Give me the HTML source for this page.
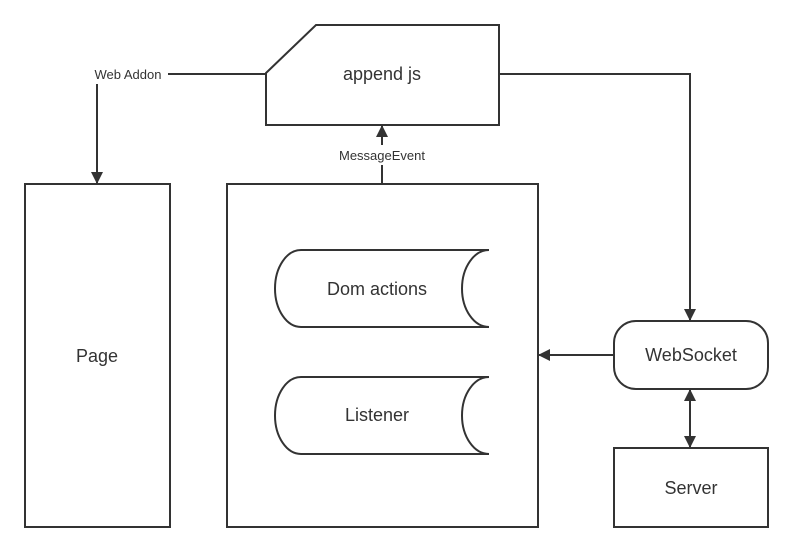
<!DOCTYPE html>
<html><head><meta charset="utf-8"><style>
html,body{margin:0;padding:0;background:#fff;}
svg{display:block;}
text{font-family:"Liberation Sans",sans-serif;fill:#333;}
</style></head><body>
<svg width="793" height="552" viewBox="0 0 793 552" xmlns="http://www.w3.org/2000/svg">
<defs>
<marker id="a" viewBox="0 0 10 10" refX="10" refY="5" markerWidth="12" markerHeight="12" markerUnits="userSpaceOnUse" orient="auto-start-reverse">
<path d="M0,0 L10,5 L0,10 z" fill="#333"/></marker>
</defs>
<g fill="none" stroke="#333" stroke-width="2">
<path d="M266,73 L316,25 L499,25 L499,125 L266,125 Z" fill="#fff"/>
<rect x="25" y="184" width="145" height="343"/>
<rect x="227" y="184" width="311" height="343"/>
<path d="M489,250 L301,250 A26,38.5 0 0 0 301,327 L489,327"/>
<path d="M489,250 A27,38.5 0 0 0 489,327"/>
<path d="M489,377 L301,377 A26,38.5 0 0 0 301,454 L489,454"/>
<path d="M489,377 A27,38.5 0 0 0 489,454"/>
<rect x="614" y="321" width="154" height="68" rx="22"/>
<rect x="614" y="448" width="154" height="79"/>
<path d="M168,74 L266,74"/>
<path d="M97,84 L97,184" marker-end="url(#a)"/>
<path d="M382,145 L382,125" marker-end="url(#a)"/>
<path d="M382,165 L382,184"/>
<path d="M499,74 L690,74 L690,321" marker-end="url(#a)"/>
<path d="M614,355 L538,355" marker-end="url(#a)"/>
<path d="M690,389 L690,448" marker-start="url(#a)" marker-end="url(#a)"/>
</g>
<text x="128" y="79" font-size="13" text-anchor="middle">Web Addon</text>
<text x="382" y="160" font-size="13" text-anchor="middle">MessageEvent</text>
<text x="382" y="80" font-size="18" text-anchor="middle">append js</text>
<text x="97" y="362" font-size="18" text-anchor="middle">Page</text>
<text x="377" y="295" font-size="18" text-anchor="middle">Dom actions</text>
<text x="377" y="421" font-size="18" text-anchor="middle">Listener</text>
<text x="691" y="361" font-size="18" text-anchor="middle">WebSocket</text>
<text x="691" y="494" font-size="18" text-anchor="middle">Server</text>
</svg>
</body></html>
